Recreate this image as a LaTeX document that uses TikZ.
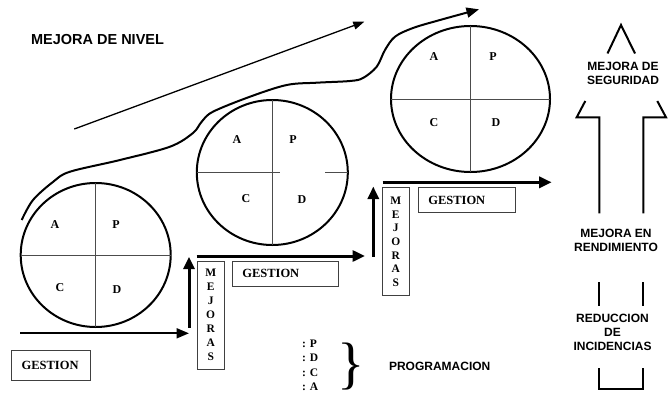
\documentclass[tikz,border=0pt]{standalone}
\usepackage{fontspec}
\setmainfont{Liberation Serif}
\setsansfont{Liberation Sans}
\usetikzlibrary{arrows.meta,shapes.geometric}

\begin{document}
\begin{tikzpicture}[x=1pt,y=-1pt,
  circ/.style={draw, ellipse, line width=2pt, inner sep=0pt, outer sep=0pt},
  quad/.style={draw=black!70, line width=1pt},
  lbl/.style={font=\fontsize{12}{12}\selectfont\bfseries, inner sep=0pt},
  gbox/.style={draw=black!75, line width=1pt, font=\fontsize{12.5}{12.5}\selectfont\bfseries, align=left, inner xsep=10pt, inner ysep=0pt},
  mbox/.style={draw=black!75, line width=1pt, align=center, minimum width=27pt, minimum height=108pt, inner sep=0pt},
  sanslbl/.style={font=\fontsize{12}{14}\selectfont\sffamily\bfseries, align=center, inner sep=0pt},
  thinarrow/.style={line width=1.3pt, -{Triangle[length=11pt,width=8pt]}},
  flow/.style={line width=3pt, -{Triangle[length=12.5pt,width=11pt]}},
  bigarrow/.style={line width=2pt, line join=miter}
]
\useasboundingbox (0,0) rectangle (672,396);

% title
\node[font=\fontsize{14.5}{14.5}\selectfont\sffamily\bfseries, inner sep=0pt] (title) at (97.5,40) {MEJORA DE NIVEL};

% straight rising arrow
\coordinate (l0) at (74.3,129);
\coordinate (l1) at (364.3,21.7);
\draw[thinarrow] (l0) -- (l1);

% S curve arrow
\coordinate (s0) at (21.7,220);
\coordinate (s1) at (479,9.3);
\draw[line width=2pt, -{Triangle[length=12.5pt,width=10pt]}]
  plot[smooth, tension=0.55] coordinates {(s0) (33,200) (53.3,181.7) (70,171.7) (120,160) (170,146.7) (193,133) (201.7,121.7) (213,111.7) (250,96.7) (286.7,85) (316.7,82.7) (350,81) (363,78) (376.7,66.7) (385,50) (395,36.7) (413,28) (440,20) (s1)};

% circles
\node[circ, minimum width=150pt, minimum height=144pt] (c1) at (95.7,255) {};
\draw[quad] (c1.north) -- (c1.south);
\draw[quad] (c1.west) -- (c1.east);
\node[lbl] (c1a) at (55,225) {A};
\node[lbl] (c1p) at (116,225) {P};
\node[lbl] (c1c) at (60,288) {C};
\node[lbl] (c1d) at (117,290) {D};

\node[circ, minimum width=151pt, minimum height=145pt] (c2) at (272.3,172.5) {};
\coordinate (c2gl) at (280,172.5);
\coordinate (c2gr) at (325,172.5);
\draw[quad] (c2.north) -- (c2.south);
\draw[quad] (c2.west) -- (c2gl);
\draw[quad] (c2gr) -- (c2.east);
\node[lbl] (c2a) at (237,140) {A};
\node[lbl] (c2p) at (293,140) {P};
\node[lbl] (c2c) at (246,199) {C};
\node[lbl] (c2d) at (302,200) {D};

\node[circ, minimum width=159pt, minimum height=146pt] (c3) at (470.5,99) {};
\draw[quad] (c3.north) -- (c3.south);
\draw[quad] (c3.west) -- (c3.east);
\node[lbl] (c3a) at (434,57) {A};
\node[lbl] (c3p) at (493,57) {P};
\node[lbl] (c3c) at (434,123) {C};
\node[lbl] (c3d) at (496,123) {D};

% GESTION boxes
\node[gbox, text width=59.3pt, minimum height=30pt] (g1) at (51.3,365) {GESTION};
\node[gbox, text width=86pt, minimum height=24.3pt] (g2) at (285.3,273.85) {GESTION};
\node[gbox, text width=76.7pt, minimum height=24.6pt] (g3) at (466.65,200) {GESTION};

% MEJORAS boxes
\node[mbox, font=\fontsize{11.5}{14}\selectfont\bfseries, minimum height=108.3pt] (m1) at (210.7,315.2) {M\\E\\J\\O\\R\\A\\S};
\node[mbox, font=\fontsize{11.5}{13.7}\selectfont\bfseries] (m2) at (395.8,241.7) {M\\E\\J\\O\\R\\A\\S};

% step arrows
\coordinate (h1s) at (20,333.3);
\coordinate (h1e) at (189,333.3);
\draw[line width=2pt, -{Triangle[length=12.5pt,width=10pt]}] (h1s) -- (h1e);
\coordinate (v1s) at (189,327.7);
\coordinate (v1e) at (189,256.7);
\draw[flow] (v1s) -- (v1e);
\coordinate (h2s) at (196.7,256);
\coordinate (h2e) at (365,256);
\draw[flow] (h2s) -- (h2e);
\coordinate (v2s) at (373.3,256.7);
\coordinate (v2e) at (373.3,186.5);
\draw[flow] (v2s) -- (v2e);
\coordinate (h3s) at (382.7,182.3);
\coordinate (h3e) at (551.7,182.3);
\draw[flow] (h3s) -- (h3e);

% PDCA legend
\node[font=\fontsize{11.5}{14.2}\selectfont\bfseries, align=left, anchor=west, inner sep=0pt] (pdca) at (302,365.3) {: P\\: D\\: C\\: A};
\node[font=\fontsize{57}{57}\selectfont, anchor=base west, inner sep=0pt] (brace) at (337.6,382.5) {\}};
\node[sanslbl] (prog) at (439.7,366.7) {PROGRAMACION};

% right block arrow (broken by labels)
\draw[bigarrow] (607.5,53.5) -- (621,25) -- (635,53.5);
\draw[bigarrow] (585.3,101) -- (576.7,117.3) -- (599.3,117.3) -- (599.3,213.3);
\draw[bigarrow] (657.3,101) -- (666,117.3) -- (643.3,117.3) -- (643.3,213.3);
\draw[bigarrow] (599.3,282) -- (599.3,306);
\draw[bigarrow] (643.3,282) -- (643.3,306);
\draw[bigarrow] (599.3,368.3) -- (599.3,389.3) -- (643.3,389.3) -- (643.3,368.3);

\node[sanslbl] (seg) at (623,73.7) {MEJORA DE\\SEGURIDAD};
\node[sanslbl] (rend) at (616,240.3) {MEJORA EN\\RENDIMIENTO};
\node[sanslbl] (red) at (612.5,332.5) {REDUCCION\\DE\\INCIDENCIAS};

\end{tikzpicture}
\end{document}
